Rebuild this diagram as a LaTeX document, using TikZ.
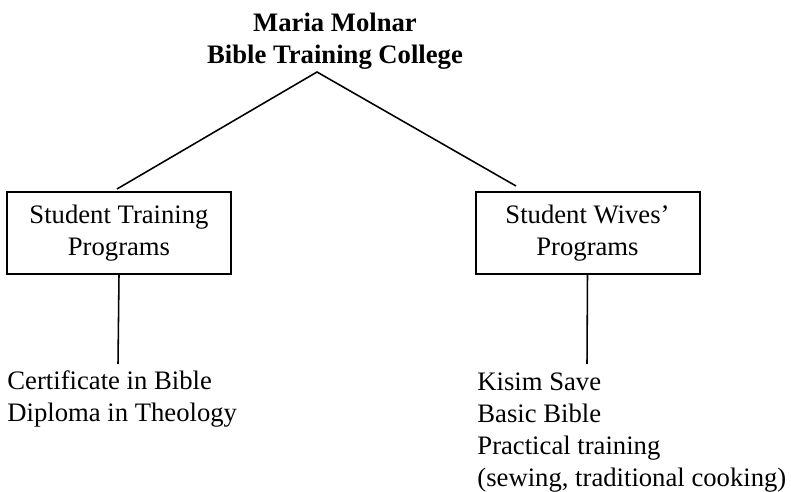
\documentclass[tikz,border=0pt]{standalone}
\usepackage{fontspec}
\setmainfont{Liberation Serif}

\begin{document}
\begin{tikzpicture}[x=0.45pt, y=-0.45pt, % Koordinaten in Pixeln, y nach unten
    every node/.style={font=\fontsize{12}{14.4}\selectfont},
    kasten/.style={draw, line width=0.9pt, minimum width=100.8pt, minimum height=36.9pt, align=center, inner sep=0pt},
    liste/.style={align=left, inner sep=0pt, anchor=north west},
    linie/.style={line width=0.7pt}]

    \useasboundingbox (0,0) rectangle (791,492);

    % Titel
    \node[font=\fontsize{12}{14.4}\selectfont\bfseries, align=center] (titel) at (335,41.5) {Maria Molnar\\Bible Training College};

    % Programme
    \node[kasten] (links) at (119,233) {Student Training\\Programs};
    \node[kasten] (rechts) at (587.5,233) {Student Wives'\\Programs};

    % Kurse
    \node[liste] (listelinks) at (7,370) {Certificate in Bible\\Diploma in Theology};
    \node[liste] (listerechts) at (477,372) {Kisim Save\\Basic Bible\\Practical training\\(sewing, traditional cooking)};

    % Verbindungslinien
    \coordinate (spitze) at (317,72);
    \coordinate (endelinks) at (117,189);
    \coordinate (enderechts) at (516,186);
    \draw[linie] (endelinks) -- (spitze) -- (enderechts);
    \coordinate (fusslinks) at (118,364);
    \coordinate (fussrechts) at (587,364);
    \draw[linie] (links.south) -- (fusslinks);
    \draw[linie] (rechts.south) -- (fussrechts);
\end{tikzpicture}
\end{document}
